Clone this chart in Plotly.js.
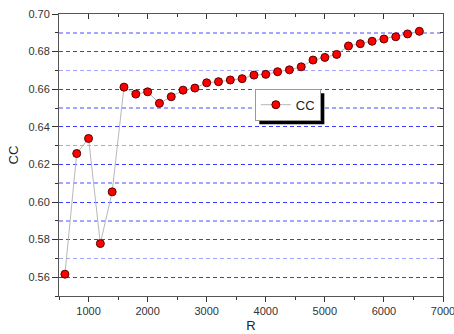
<!DOCTYPE html>
<html><head><meta charset="utf-8">
<script src="https://cdn.plot.ly/plotly-3.0.1.min.js"></script>
<style>html,body{margin:0;padding:0;background:#fff}#c{width:454px;height:334px}</style>
</head><body><div id="c"></div>
<script>
var R = [600,800,1000,1200,1400,1600,1800,2000,2200,2400,2600,2800,3000,3200,3400,3600,3800,4000,4200,4400,4600,4800,5000,5200,5400,5600,5800,6000,6200,6400,6600];
var CC = [0.5616,0.6258,0.6338,0.5779,0.6054,0.6611,0.6574,0.6586,0.6525,0.6560,0.6595,0.6606,0.6634,0.6640,0.6649,0.6656,0.6675,0.6679,0.6693,0.6703,0.6719,0.6755,0.6769,0.6785,0.6830,0.6842,0.6855,0.6867,0.6879,0.6894,0.6908];
var seriesName = 'CC';
var xTitle = 'R', yTitle = 'CC';

var ff = '"Liberation Sans", Arial, sans-serif';
var font = {family:ff, size:11, color:'#333'};
var trace = {
  x: R, y: CC, name: seriesName, type:'scatter', mode:'lines+markers',
  line:{color:'#b8b8b8', width:1},
  marker:{color:'#ff0000', size:8, line:{color:'#5a0000', width:1}}
};
// invisible companion trace so the mirrored (top/right) axes with inside ticks are drawn
var frameTrace = {
  x: R, y: CC, xaxis:'x2', yaxis:'y2', type:'scatter', mode:'markers',
  marker:{opacity:0, size:1}, showlegend:false, hoverinfo:'skip'
};
var xr = [500,7000], yr = [0.55,0.70];
var layout = {
  width:454, height:334,
  margin:{l:59, r:11, t:14, b:38},
  paper_bgcolor:'#fff', plot_bgcolor:'#fff',
  font: font,
  showlegend:true,
  legend:{x:0.51, y:0.735, xanchor:'left', yanchor:'top', bgcolor:'#fff', bordercolor:'#999', borderwidth:1,
          font:{family:ff, size:13, color:'#222'}, itemwidth:30, tracegroupgap:0},
  xaxis:{range:xr, dtick:1000, tick0:0, ticks:'outside', ticklen:5, tickwidth:1, tickcolor:'#333', ticklabeloverflow:'allow',
         showline:true, linecolor:'#555', linewidth:1, mirror:true, showgrid:false, zeroline:false,
         minor:{dtick:500, tick0:0, ticks:'outside', ticklen:3, tickcolor:'#333', showgrid:false},
         title:{text:xTitle, font:{size:13, color:'#222'}, standoff:4}},
  yaxis:{range:yr, dtick:0.02, tick0:0.56, tickformat:'.2f', ticks:'outside', ticklen:6, tickwidth:1, tickcolor:'#333',
         showline:true, linecolor:'#555', linewidth:1, mirror:true, zeroline:false,
         showgrid:true, gridcolor:'rgb(60,60,255)', griddash:'4px,3px', gridwidth:1,
         minor:{dtick:0.01, tick0:0.55, ticks:'outside', ticklen:3, tickcolor:'#333', showgrid:true, gridcolor:'rgb(165,165,255)', griddash:'4px,3px', gridwidth:1.5},
         title:{text:yTitle, font:{size:13, color:'#222'}, standoff:6}},
  xaxis2:{overlaying:'x', side:'top', range:xr, dtick:1000, tick0:0, ticks:'inside', ticklen:5, tickcolor:'#333',
          showticklabels:false, showgrid:false, zeroline:false, showline:false,
          minor:{dtick:500, tick0:0, ticks:'inside', ticklen:3, tickcolor:'#333', showgrid:false}},
  yaxis2:{overlaying:'y', side:'right', range:yr, dtick:0.02, tick0:0.56, ticks:'inside', ticklen:5, tickcolor:'#333',
          showticklabels:false, showgrid:false, zeroline:false, showline:false,
          minor:{dtick:0.01, tick0:0.55, ticks:'inside', ticklen:3, tickcolor:'#333', showgrid:false}}
};
var gd = document.getElementById('c');
Plotly.newPlot(gd, [trace, frameTrace], layout, {staticPlot:true, displayModeBar:false}).then(function(){
  // drop shadow behind the legend box (Origin style)
  var bg = gd.querySelector('.legend .bg');
  if(!bg) return;
  var b = bg.getBoundingClientRect(), c = gd.getBoundingClientRect();
  var s = gd._fullLayout._size, off = 4;
  var x0 = (b.left - c.left + off - s.l)/s.w, x1 = (b.right - c.left + off - s.l)/s.w;
  var y0 = 1 - (b.bottom - c.top + off - s.t)/s.h, y1 = 1 - (b.top - c.top + off - s.t)/s.h;
  return Plotly.relayout(gd, {shapes:[{type:'rect', xref:'paper', yref:'paper', x0:x0, x1:x1, y0:y0, y1:y1,
    fillcolor:'#000', line:{width:0}, layer:'above'}]});
});
</script>
</body></html>
